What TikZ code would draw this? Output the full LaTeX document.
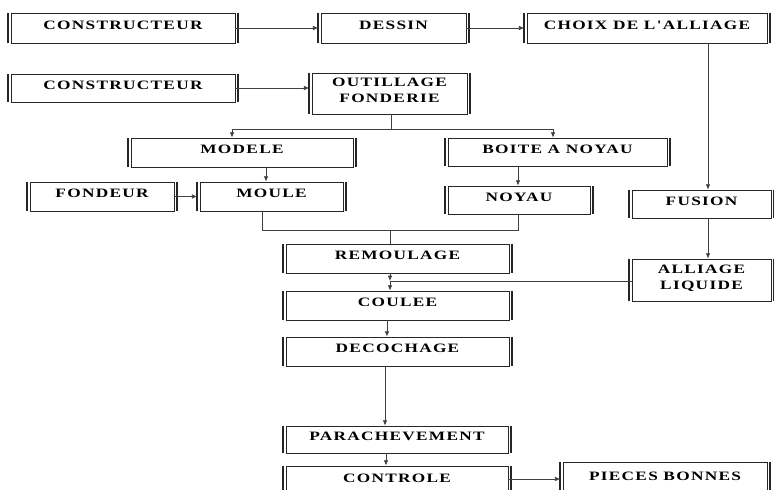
\documentclass[tikz,border=0pt]{standalone}
\usepackage{fontspec}
\newfontfamily\boxfont{Liberation Serif}[FakeStretch=1.35,LetterSpace=10]
\usetikzlibrary{arrows.meta}
\begin{document}
\begin{tikzpicture}[x=0.75pt,y=-0.75pt,
  boite/.style={draw=black!85, line width=0.6pt, inner sep=0pt, align=center,
    font=\boxfont\bfseries\fontsize{9.6}{12}\selectfont, text depth=4.5pt},
  bx/.style n args={4}{boite, minimum width={(#3-#1)*0.75pt},
    minimum height={(#4-#2)*0.75pt}, at={({(#1+#3)/2},{(#2+#4)/2})}},
  bar/.style={draw=black!85, line width=1.1pt},
  ln/.style={draw=black!75, line width=0.6pt},
  arr/.style={ln, -{Latex[length=4pt,width=3.5pt]}},
  sarr/.style={arr, shorten >=1.8pt}]
\useasboundingbox (0,0) rectangle (774,489);
\fill[white] (0,0) rectangle (774,489);
\clip (0,0) rectangle (774,489);

\node[bx={11}{13}{235}{43}] (c1) {CONSTRUCTEUR};
\node[bx={321}{13}{466}{43}] (dessin) {DESSIN};
\node[bx={527}{13}{767}{43}] (choix) {CHOIX DE L'ALLIAGE};
\node[bx={11}{74}{235}{102}] (c2) {CONSTRUCTEUR};
\node[bx={312}{73}{467}{114}] (outil) {OUTILLAGE\\FONDERIE};
\node[bx={131}{138}{353}{167}] (modele) {MODELE};
\node[bx={448}{138}{667}{166}] (boite) {BOITE A NOYAU};
\node[bx={30}{182}{174}{211}] (fondeur) {FONDEUR};
\node[bx={200}{182}{343}{211}] (moule) {MOULE};
\node[bx={448}{186}{590}{214}] (noyau) {NOYAU};
\node[bx={632}{190}{771}{218}] (fusion) {FUSION};
\node[bx={632}{259}{771}{301}] (alliage) {ALLIAGE\\LIQUIDE};
\node[bx={286}{244}{509}{273}] (remoulage) {REMOULAGE};
\node[bx={286}{291}{509}{320}] (coulee) {COULEE};
\node[bx={286}{337}{509}{366}] (decochage) {DECOCHAGE};
\node[bx={286}{426}{508}{453}] (parach) {PARACHEVEMENT};
\node[bx={286}{466}{508}{496}] (controle) {CONTROLE};
\node[bx={563}{462}{767}{496}] (pieces) {PIECES BONNES};

\foreach \n in {c1,dessin,choix,c2,outil,modele,boite,fondeur,moule,noyau,fusion,alliage,remoulage,coulee,decochage,parach,controle,pieces}{
  \draw[bar] ([xshift=-2pt]\n.north west) -- ([xshift=-2pt]\n.south west);
  \draw[bar] ([xshift=2pt]\n.north east) -- ([xshift=2pt]\n.south east);
}

% helper coordinates
\coordinate (y2) at (0,88);
\coordinate (jl) at (232,129);
\coordinate (jm) at (391,129);
\coordinate (jr) at (553,129);
\coordinate (a1) at (266,0);
\coordinate (m1) at (262,230);
\coordinate (n1) at (518,230);
\coordinate (r1) at (390,230);
\coordinate (f1) at (708,0);
\coordinate (k) at (390,281);
\coordinate (c3) at (387,0);
\coordinate (c4) at (385,0);
\coordinate (c5) at (386,0);
\coordinate (y5) at (0,479);

\draw[sarr] (c1) -- (dessin);
\draw[sarr] (dessin) -- (choix);
\draw[sarr] (c2.east |- y2) -- (outil.west |- y2);
\draw[ln] (outil.south -| jm) -- (jm);
\draw[ln] (jl) -- (jr);
\draw[arr] (jl) -- (jl |- modele.north);
\draw[arr] (jr) -- (jr |- boite.north);
\draw[arr] (modele.south -| a1) -- (moule.north -| a1);
\draw[sarr] (fondeur) -- (moule);
\draw[arr] (boite.south -| n1) -- (noyau.north -| n1);
\draw[ln] (moule.south -| m1) -- (m1) -- (n1) -- (noyau.south -| n1);
\draw[ln] (r1) -- (remoulage.north -| r1);
\draw[arr] (choix.south -| f1) -- (fusion.north -| f1);
\draw[arr] (fusion.south -| f1) -- (alliage.north -| f1);
\draw[arr] (remoulage.south -| k) -- (k);
\draw[arr] (alliage.west |- k) -- (k) -- (coulee.north -| k);
\draw[arr] (coulee.south -| c3) -- (decochage.north -| c3);
\draw[arr] (decochage.south -| c4) -- (parach.north -| c4);
\draw[arr] (parach.south -| c5) -- (controle.north -| c5);
\draw[sarr] (controle.east |- y5) -- (pieces.west |- y5);
\end{tikzpicture}
\end{document}
